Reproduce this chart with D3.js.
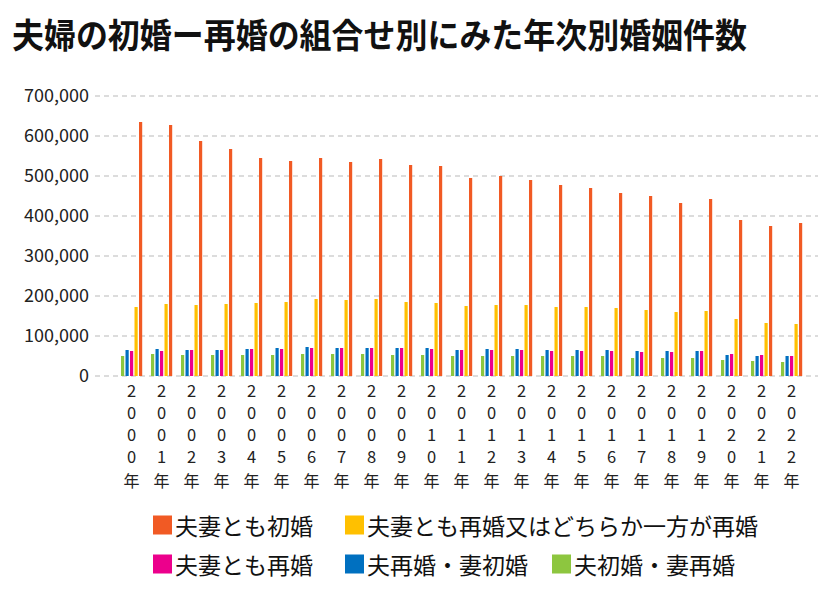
<!DOCTYPE html>
<html><head><meta charset="utf-8">
<script src="https://cdn.jsdelivr.net/npm/d3@7"></script>
<style>
body{margin:0;background:#fff;}
text{font-family:"Noto Sans CJK JP","Noto Sans",sans-serif;}
</style></head>
<body><svg id="c" width="839" height="600"></svg>
<script>
const years = ["2000","2001","2002","2003","2004","2005","2006","2007","2008","2009","2010","2011","2012","2013","2014","2015","2016","2017","2018","2019","2020","2021","2022"];
const seriesNames = ["夫初婚・妻再婚","夫再婚・妻初婚","夫妻とも再婚","夫妻とも再婚又はどちらか一方が再婚","夫妻とも初婚"];
const seriesColors = ["#8DC63F","#0070C0","#EC008C","#FFC000","#F15A24"];
const firstBoth = [635000,627500,587500,567500,545000,537500,545000,535000,542500,527500,525000,495000,500000,490000,477500,470000,457500,450000,432500,442500,390000,375000,382500];
const eitherRe = [172500,180000,177500,180000,182500,185000,192500,190000,192500,185000,182500,175000,177500,177500,172500,172500,170000,165000,160000,162500,142500,132500,130000];
const bothRe = [62500,62500,65000,65000,67500,67500,70000,70000,70000,70000,67500,65000,65000,65000,62500,62500,62500,60000,60000,62500,55000,52500,50000];
const husRe = [65000,67500,65000,65000,67500,70000,72500,70000,70000,70000,70000,65000,67500,67500,65000,65000,65000,62500,62500,62500,52500,50000,50000];
const wifeRe = [50000,55000,52500,52500,52500,52500,55000,55000,55000,52500,52500,50000,50000,50000,50000,50000,50000,45000,45000,45000,40000,37500,35000];
const yTicks = [0,100000,200000,300000,400000,500000,600000,700000];
const seriesValues = [wifeRe, husRe, bothRe, eitherRe, firstBoth];
const legendOrder = [4,3,2,1,0];

const svg = d3.select("#c");
svg.append("text").attr("x",12).attr("y",33).attr("dominant-baseline","central")
  .attr("font-size",34).attr("font-weight",700).attr("fill","#111")
  .attr("textLength",735).attr("lengthAdjust","spacingAndGlyphs")
  .text("夫婦の初婚ー再婚の組合せ別にみた年次別婚姻件数");

const y = d3.scaleLinear().domain([0,700000]).range([376,96]);
const x0 = d3.scaleBand().domain(years).range([116.5,806.5]).padding(0);
const x1 = d3.scaleBand().domain(d3.range(5)).range([4.5,27]).padding(0);

// grid
const grid = svg.append("g");
grid.selectAll("line").data(yTicks).join("line")
  .attr("x1",95).attr("x2",818).attr("y1",d=>y(d)).attr("y2",d=>y(d))
  .attr("stroke","#dcdcdc").attr("stroke-width",2).attr("stroke-dasharray","5,4");

// y axis
const yAxis = d3.axisLeft(y).tickValues(yTicks).tickSize(0).tickPadding(0)
  .tickFormat(d3.format(","));
const ya = svg.append("g").attr("transform","translate(89,0)").call(yAxis);
ya.select(".domain").remove();
ya.selectAll("text").attr("font-size",18).attr("fill","#222")
  .attr("font-family","'Noto Sans',sans-serif");

// bars
const g = svg.append("g");
years.forEach((yr,i)=>{
  seriesValues.forEach((vals,s)=>{
    g.append("rect")
      .attr("x",x0(yr)+x1(s)).attr("width",3.2)
      .attr("y",y(vals[i])).attr("height",y(0)-y(vals[i]))
      .attr("fill",seriesColors[s]);
  });
});

// x labels (vertical stacked)
const xl = svg.append("g");
years.forEach(yr=>{
  const cx = x0(yr)+x0.bandwidth()/2;
  yr.split("").forEach((ch,k)=>{
    xl.append("text").attr("text-anchor","middle").attr("font-size",16.5).attr("fill","#222")
      .attr("font-family","'Liberation Sans',sans-serif")
      .attr("x",cx).attr("y",390+k*22).attr("dominant-baseline","central").text(ch);
  });
  xl.append("text").attr("text-anchor","middle").attr("font-size",16).attr("fill","#222")
    .attr("x",cx).attr("y",480).attr("dominant-baseline","central").text("年");
});

// legend
const legPos = [[153,525],[345,525],[153,564],[345,564],[552,564]];
legendOrder.forEach((s,k)=>{
  const [lx,ly] = legPos[k];
  svg.append("rect").attr("x",lx).attr("y",ly-9.5).attr("width",19).attr("height",19).attr("fill",seriesColors[s]);
  svg.append("text").attr("x",lx+22).attr("y",ly).attr("dominant-baseline","central")
    .attr("font-size",23).attr("fill","#111").text(seriesNames[s]);
});
</script></body></html>
